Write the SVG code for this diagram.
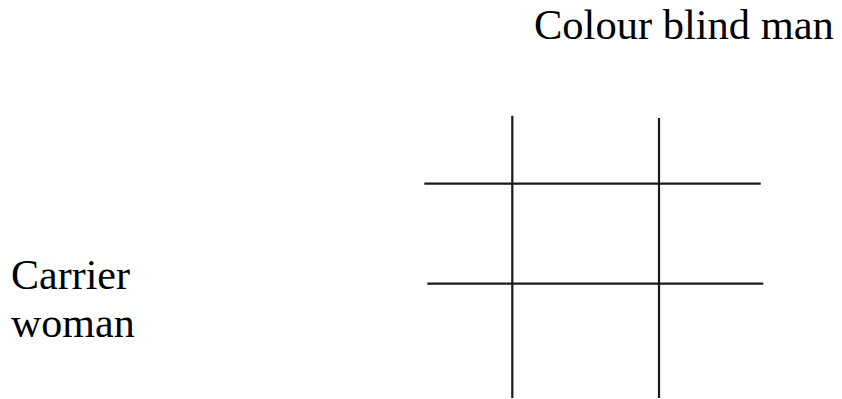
<svg xmlns="http://www.w3.org/2000/svg" width="842" height="399" viewBox="0 0 842 399">
<style>
text{font-family:"Liberation Serif","Times New Roman",serif;font-size:42px;fill:#000}
.g line{stroke:#1a1a1a;stroke-width:2.2}
</style>
<rect width="842" height="399" fill="#fff"/>
<g id="label-man"><text x="534" y="39" style="font-size:42.5px">Colour blind man</text></g>
<g id="label-woman"><text x="11" y="289">Carrier</text><text x="11" y="337">woman</text></g>
<g id="grid" class="g">
<line x1="512.3" y1="115.7" x2="512.3" y2="398"/>
<line x1="659" y1="118" x2="659" y2="398"/>
<line x1="424.3" y1="183.7" x2="760.7" y2="183.7"/>
<line x1="427.3" y1="283.7" x2="763.3" y2="283.7"/>
</g>
</svg>
